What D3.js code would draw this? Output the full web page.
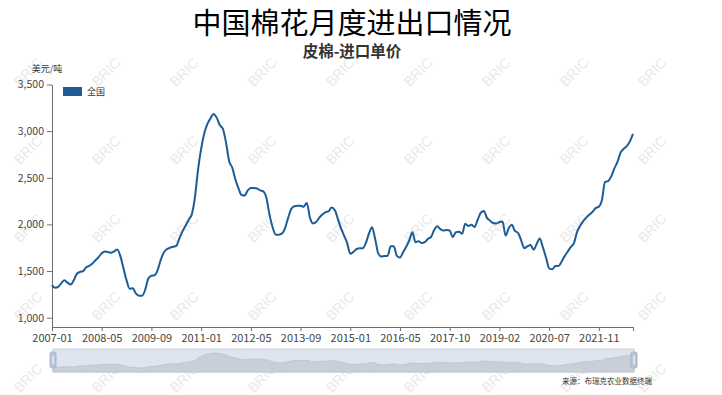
<!DOCTYPE html>
<html>
<head>
<meta charset="utf-8">
<script src="https://cdn.jsdelivr.net/npm/d3@7"></script>
<style>
  body { margin: 0; background: #fff; }
  text { font-family: "Noto Sans CJK SC", "Noto Sans", sans-serif; }
</style>
</head>
<body>
<div id="chart"></div>
<script>
// Chart data
var titleText = "中国棉花月度进出口情况";
var subtitleText = "皮棉-进口单价";
var unitText = "美元/吨";
var seriesName = "全国";
var sourceText = "来源：布瑞克农业数据终端";

// months 2007-01 .. 2022-10, two months are missing in the source data
var firstMonth = "2007-01";
var lastMonth = "2022-10";
var missingMonths = ["2017-02", "2020-02"];

// import unit price, USD/ton
var priceValues = [
  1350, 1320, 1330, 1370, 1400, 1375, 1355, 1400, 1470, 1490,
  1500, 1540, 1555, 1580, 1615, 1650, 1690, 1710, 1705, 1695,
  1712, 1730, 1660, 1530, 1400, 1310, 1315, 1260, 1235, 1235,
  1300, 1420, 1450, 1455, 1510, 1620, 1700, 1735, 1750, 1760,
  1770, 1850, 1925, 1985, 2050, 2110, 2290, 2585, 2810, 2975,
  3075, 3135, 3185, 3145, 3065, 3025, 2880, 2680, 2610, 2485,
  2390, 2315, 2310, 2365, 2390, 2390, 2385, 2365, 2355, 2285,
  2105, 1970, 1890, 1890, 1900, 1960, 2070, 2165, 2195, 2200,
  2200, 2190, 2230, 2075, 2010, 2025, 2070, 2105, 2130, 2140,
  2180, 2155, 2060, 1960, 1880, 1800, 1685, 1705, 1735, 1745,
  1745, 1800, 1900, 1970, 1845, 1690, 1656, 1660, 1660, 1765,
  1765, 1663, 1645, 1700, 1760, 1830, 1915, 1809, 1820, 1800,
  1809, 1845, 1865, 1940, 1980, 1950, 1935, 1940, 1935, 1863,
  1917, 1920, 1899, 2008, 1983, 1996, 1972, 2050, 2125, 2145,
  2070, 2040, 2015, 2010, 2025, 2030, 1880, 1960, 1995, 1930,
  1910, 1830, 1745, 1765, 1780, 1730, 1790, 1850, 1754, 1646,
  1530, 1518, 1554, 1554, 1600, 1660, 1710, 1760, 1800, 1920,
  1985, 2035, 2075, 2105, 2135, 2175, 2190, 2260, 2455, 2465,
  2515, 2600, 2670, 2770, 2810, 2840, 2890, 2970
];

var yTicks = [1000, 1500, 2000, 2500, 3000, 3500];
var labelEvery = 16;

// build category list
var months = [];
var fmt = d3.timeFormat("%Y-%m");
var parse = d3.timeParse("%Y-%m");
d3.timeMonth.range(parse(firstMonth), d3.timeMonth.offset(parse(lastMonth), 1)).forEach(function(m) {
  var s = fmt(m);
  if (missingMonths.indexOf(s) < 0) months.push(s);
});

var svgWidth = 722;
var svgHeight = 395;
var lineColor = "#1d5c96";

var svg = d3.select("#chart")
  .append("svg")
  .attr("width", svgWidth)
  .attr("height", svgHeight);

// watermarks
var wmRows = [72, 150, 228, 306, 378];
var wmCols = d3.range(9).map(function(i) { return 28 + i * 78; });
var wm = svg.append("g");
wmRows.forEach(function(yy) {
  wmCols.forEach(function(xx) {
    wm.append("text")
      .attr("transform", "translate(" + xx + "," + yy + ") rotate(-45)")
      .attr("text-anchor", "middle")
      .attr("dy", "0.35em")
      .attr("font-size", "14px")
      .attr("fill", "#e9e9e9")
      .style("font-family", "Liberation Sans, sans-serif")
      .text("BRIC");
  });
});

// scales
var xScale = d3.scalePoint()
  .domain(months)
  .range([52, 633]);

var yScale = d3.scaleLinear()
  .domain([900, 3500])
  .range([327, 84.5]);

// titles
svg.append("text")
  .attr("x", 352)
  .attr("y", 34)
  .attr("text-anchor", "middle")
  .attr("font-size", "29px")
  .attr("fill", "#000")
  .text(titleText);

svg.append("text")
  .attr("x", 352)
  .attr("y", 57)
  .attr("text-anchor", "middle")
  .attr("font-size", "15.5px")
  .attr("font-weight", "bold")
  .attr("fill", "#333")
  .text(subtitleText);

svg.append("text")
  .attr("x", 47)
  .attr("y", 72)
  .attr("text-anchor", "middle")
  .attr("font-size", "9px")
  .attr("fill", "#333")
  .text(unitText);

// axes
var leftAxis = d3.axisLeft(yScale)
  .tickValues(yTicks)
  .tickSize(5)
  .tickSizeOuter(0)
  .tickPadding(3)
  .tickFormat(d3.format(","));

var tickMonths = months.filter(function(d, i) { return i % labelEvery === 0; });
tickMonths.push(months[months.length - 1]);

var bottomAxis = d3.axisBottom(xScale)
  .tickValues(tickMonths)
  .tickSize(4)
  .tickSizeOuter(0)
  .tickPadding(3)
  .tickFormat(function(d) { return d === months[months.length - 1] ? "" : d; });

var yAxisG = svg.append("g")
  .attr("transform", "translate(52,0)")
  .call(leftAxis);

var xAxisG = svg.append("g")
  .attr("transform", "translate(0,327)")
  .call(bottomAxis);

[yAxisG, xAxisG].forEach(function(g) {
  g.select(".domain").attr("stroke", "#6e6e6e");
  g.selectAll(".tick line").attr("stroke", "#6e6e6e");
  g.selectAll(".tick text")
    .attr("fill", "#444")
    .style("font-family", "\"Noto Sans CJK SC\", sans-serif");
});
yAxisG.selectAll(".tick text").attr("font-size", "10.5px");
xAxisG.selectAll(".tick text").attr("font-size", "11px");

// line
var line = d3.line()
  .x(function(d, i) { return xScale(months[i]); })
  .y(function(d) { return yScale(d); })
  .curve(d3.curveMonotoneX);

svg.append("path")
  .datum(priceValues)
  .attr("fill", "none")
  .attr("stroke", lineColor)
  .attr("stroke-width", 2)
  .attr("stroke-linejoin", "round")
  .attr("d", line);

// legend
svg.append("rect")
  .attr("x", 63)
  .attr("y", 87)
  .attr("width", 19)
  .attr("height", 9)
  .attr("fill", lineColor);

svg.append("text")
  .attr("x", 87)
  .attr("y", 95)
  .attr("font-size", "9px")
  .attr("fill", "#333")
  .text(seriesName);

// slider (data zoom)
var sliderTop = 349, sliderBottom = 372;
svg.append("rect")
  .attr("x", 53)
  .attr("y", sliderTop)
  .attr("width", 581)
  .attr("height", sliderBottom - sliderTop)
  .attr("fill", "#dfe5ee")
  .attr("stroke", "#c9d1dc");

var shadowY = d3.scaleLinear()
  .domain([700, d3.max(priceValues)])
  .range([sliderBottom, sliderTop + 4]);

var shadowX = d3.scalePoint()
  .domain(months)
  .range([53, 634]);

var shadowArea = d3.area()
  .x(function(d, i) { return shadowX(months[i]); })
  .y0(sliderBottom)
  .y1(function(d) { return shadowY(d); })
  .curve(d3.curveMonotoneX);

svg.append("path")
  .datum(priceValues)
  .attr("fill", "#c9cfd8")
  .attr("stroke", "#bcc3cd")
  .attr("stroke-width", 0.8)
  .attr("d", shadowArea);

[53, 634].forEach(function(hx) {
  svg.append("rect")
    .attr("x", hx - 3)
    .attr("y", 352)
    .attr("width", 6)
    .attr("height", 16)
    .attr("rx", 2)
    .attr("fill", "#b9c6d8")
    .attr("stroke", "#a3b3c9");
  svg.append("line")
    .attr("x1", hx).attr("x2", hx)
    .attr("y1", 356).attr("y2", 364)
    .attr("stroke", "#fff")
    .attr("stroke-width", 1);
});

// source
svg.append("text")
  .attr("x", 652)
  .attr("y", 384)
  .attr("text-anchor", "end")
  .attr("font-size", "7.5px")
  .attr("fill", "#333")
  .text(sourceText);
</script>
</body>
</html>
